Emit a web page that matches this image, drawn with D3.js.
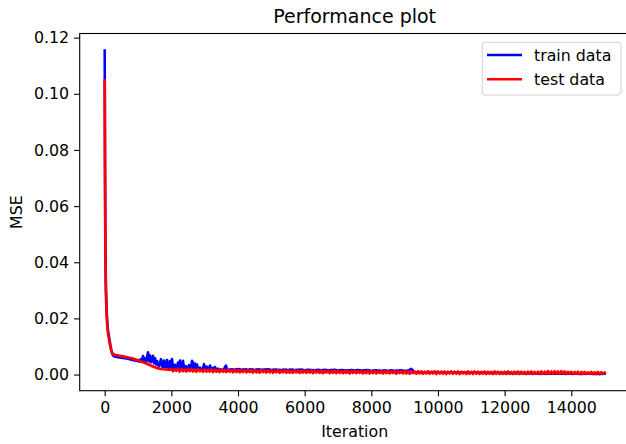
<!DOCTYPE html>
<html>
<head>
<meta charset="utf-8">
<script src="https://cdn.jsdelivr.net/npm/d3@7"></script>
<style>
  html, body { margin: 0; padding: 0; background: #fff; }
  svg { display: block; }
  text { font-family: "DejaVu Sans", sans-serif; fill: #000; }
</style>
</head>
<body>
<svg id="chart" width="626" height="444"></svg>
<script>
// Tick labels
const xTicks = [0, 2000, 4000, 6000, 8000, 10000, 12000, 14000];
const yTicks = [0.00, 0.02, 0.04, 0.06, 0.08, 0.10, 0.12];

// Series names
const seriesNames = ["train data", "test data"];

// ---- train data (MSE per iteration) ----
// fast drop at the start, as [iteration, mse]
const trainEarly = [
  [0, 0.1154], [10, 0.075], [20, 0.048], [35, 0.032], [55, 0.024], [75, 0.019],
  [100, 0.0155], [130, 0.0135], [170, 0.0105], [210, 0.0080], [250, 0.0068],
  [300, 0.0064], [400, 0.0062], [500, 0.0060], [600, 0.0058], [700, 0.0056],
  [800, 0.0053], [900, 0.0050], [970, 0.0049]
];
// noisy stretch, one value every 30 iterations from 1000
const trainNoisyStart = 1000, trainNoisyStep = 30;
const trainNoisy = [
  0.0047, 0.0052, 0.0046, 0.0055, 0.0049, 0.0066, 0.0048, 0.0058, 0.0045, 0.0062,
  0.0079, 0.0047, 0.0068, 0.0044, 0.0052, 0.0067, 0.0040, 0.0058, 0.0036, 0.0048,
  0.0033, 0.0031, 0.0044, 0.0055, 0.0029, 0.0027, 0.0050, 0.0026, 0.0025, 0.0052,
  0.0025, 0.0024, 0.0048, 0.0023, 0.0055, 0.0023, 0.0022, 0.0035, 0.0022, 0.0021,
  0.0043, 0.0021, 0.0050, 0.0021, 0.0020, 0.0049, 0.0021, 0.0020, 0.0030, 0.0020,
  0.0019, 0.0034, 0.0020, 0.0019, 0.0049, 0.0042, 0.0020, 0.0039, 0.0019, 0.0036,
  0.0019, 0.0018, 0.0025, 0.0019, 0.0018, 0.0022, 0.0037, 0.0019, 0.0018, 0.0028,
  0.0018, 0.0017, 0.0032, 0.0018, 0.0017, 0.0024, 0.0017, 0.0027, 0.0017, 0.0016,
  0.0021, 0.0017, 0.0016, 0.0019, 0.0016, 0.0017, 0.0016, 0.0028, 0.0032, 0.0017,
  0.0016
];
// long tail, one value every 100 iterations from 3800
const trainTailStart = 3800, trainTailStep = 100;
const trainTail = [
  0.0019, 0.0017, 0.0020, 0.0017, 0.0019, 0.0017, 0.0019, 0.0016, 0.0019, 0.0017,
  0.0018, 0.0019, 0.0016, 0.0018, 0.0017, 0.0016, 0.0018, 0.0016, 0.0018, 0.0016,
  0.0017, 0.0018, 0.0015, 0.0017, 0.0016, 0.0015, 0.0017, 0.0015, 0.0017, 0.0015,
  0.0016, 0.0017, 0.0014, 0.0016, 0.0015, 0.0014, 0.0016, 0.0014, 0.0016, 0.0014,
  0.0015, 0.0016, 0.0013, 0.0015, 0.0014, 0.0013, 0.0015, 0.0013, 0.0015, 0.0013,
  0.0014, 0.0015, 0.0013, 0.0014, 0.0020, 0.0009, 0.0008, 0.0009, 0.0008, 0.0009,
  0.0008, 0.0010, 0.0007, 0.0009, 0.0008, 0.0007, 0.0009, 0.0007, 0.0008, 0.0007,
  0.0008, 0.0006, 0.0008, 0.0007, 0.0006, 0.0008, 0.0006, 0.0007, 0.0006, 0.0005,
  0.0007, 0.0005, 0.0006, 0.0005, 0.0006, 0.0004, 0.0006, 0.0005, 0.0004, 0.0005,
  0.0004, 0.0005, 0.0003, 0.0004, 0.0003, 0.0004, 0.0003, 0.0004, 0.0003, 0.0004,
  0.0003, 0.0004, 0.0003, 0.0004, 0.0003, 0.0002, 0.0003, 0.0004, 0.0003, 0.0002,
  0.0003, 0.0002, 0.0003
];

// ---- test data (MSE per iteration) ----
const testEarly = [
  [0, 0.1047], [10, 0.070], [20, 0.045], [35, 0.030], [55, 0.022], [80, 0.017],
  [110, 0.0138], [150, 0.0112], [190, 0.0088], [230, 0.0076], [280, 0.0071],
  [350, 0.0069], [450, 0.0067], [550, 0.0065], [650, 0.0062], [750, 0.0060],
  [850, 0.0057], [950, 0.0053], [1050, 0.0049], [1150, 0.0044], [1250, 0.0039],
  [1350, 0.0034], [1450, 0.0029], [1550, 0.0024], [1650, 0.0021], [1750, 0.0019],
  [1850, 0.0018], [1950, 0.0017]
];
// tail, one value every 50 iterations from 2000
const testTailStart = 2000, testTailStep = 50;
const testTail = [
  0.0020, 0.0012, 0.0019, 0.0013, 0.0021, 0.0011, 0.0019, 0.0012, 0.0018, 0.0011,
  0.0019, 0.0012, 0.0020, 0.0011, 0.0018, 0.0010, 0.0019, 0.0012, 0.0017, 0.0010,
  0.0018, 0.0010, 0.0017, 0.0011, 0.0019, 0.0009, 0.0017, 0.0010, 0.0016, 0.0009,
  0.0018, 0.0010, 0.0016, 0.0009, 0.0017, 0.0010, 0.0016, 0.0008, 0.0017, 0.0009,
  0.0016, 0.0008, 0.0015, 0.0009, 0.0017, 0.0008, 0.0015, 0.0009, 0.0016, 0.0007,
  0.0016, 0.0008, 0.0015, 0.0007, 0.0016, 0.0009, 0.0014, 0.0007, 0.0016, 0.0008,
  0.0015, 0.0007, 0.0014, 0.0008, 0.0016, 0.0006, 0.0014, 0.0008, 0.0015, 0.0006,
  0.0015, 0.0007, 0.0014, 0.0006, 0.0015, 0.0008, 0.0013, 0.0006, 0.0014, 0.0007,
  0.0015, 0.0006, 0.0013, 0.0007, 0.0014, 0.0005, 0.0014, 0.0007, 0.0013, 0.0006,
  0.0014, 0.0005, 0.0013, 0.0007, 0.0014, 0.0005, 0.0012, 0.0006, 0.0014, 0.0005,
  0.0013, 0.0006, 0.0012, 0.0005, 0.0014, 0.0006, 0.0012, 0.0004, 0.0013, 0.0006,
  0.0013, 0.0005, 0.0012, 0.0006, 0.0013, 0.0004, 0.0012, 0.0005, 0.0013, 0.0004,
  0.0012, 0.0005, 0.0013, 0.0004, 0.0011, 0.0005, 0.0012, 0.0004, 0.0013, 0.0005,
  0.0012, 0.0004, 0.0011, 0.0005, 0.0012, 0.0003, 0.0011, 0.0005, 0.0012, 0.0004,
  0.0011, 0.0004, 0.0012, 0.0003, 0.0011, 0.0005, 0.0010, 0.0003, 0.0012, 0.0004,
  0.0011, 0.0003, 0.0010, 0.0004, 0.0011, 0.0003, 0.0010, 0.0004, 0.0011, 0.0002,
  0.0011, 0.0004, 0.0010, 0.0003, 0.0011, 0.0002, 0.0010, 0.0004, 0.0011, 0.0003,
  0.0010, 0.0003, 0.0011, 0.0002, 0.0010, 0.0004, 0.0009, 0.0002, 0.0011, 0.0003,
  0.0010, 0.0002, 0.0011, 0.0003, 0.0010, 0.0002, 0.0009, 0.0003, 0.0011, 0.0002,
  0.0010, 0.0003, 0.0009, 0.0002, 0.0011, 0.0003, 0.0010, 0.0002, 0.0009, 0.0003,
  0.0010, 0.0002, 0.0011, 0.0003, 0.0009, 0.0002, 0.0010, 0.0003, 0.0011, 0.0002,
  0.0010, 0.0003, 0.0009, 0.0002, 0.0010, 0.0003, 0.0011, 0.0002, 0.0009, 0.0003,
  0.0010, 0.0002, 0.0011, 0.0003, 0.0010, 0.0002, 0.0012, 0.0003, 0.0011, 0.0003,
  0.0012, 0.0004, 0.0011, 0.0003, 0.0012, 0.0004, 0.0011, 0.0002, 0.0010, 0.0003,
  0.0010, 0.0002, 0.0009, 0.0003, 0.0010, 0.0002, 0.0009, 0.0003, 0.0009, 0.0002,
  0.0008, 0.0003, 0.0009, 0.0002, 0.0008, 0.0003, 0.0009, 0.0002, 0.0008, 0.0003,
  0.0007
];

// Assemble [iteration, mse] point lists from the pieces above
function stepped(start, step, values) {
  return values.map((v, i) => [start + i * step, v]);
}
const trainPoints = trainEarly
  .concat(stepped(trainNoisyStart, trainNoisyStep, trainNoisy))
  .concat(stepped(trainTailStart, trainTailStep, trainTail));
const testPoints = testEarly.concat(stepped(testTailStart, testTailStep, testTail));

// ---- layout ----
const svg = d3.select("#chart");
const plot = { left: 79.7, right: 629.6, top: 33.5, bottom: 390.7 };
const FONT = 15.8;

const x = d3.scaleLinear().domain([-750, 15750]).range([plot.left, plot.right]);
const y = d3.scaleLinear().domain([-0.00575, 0.12148]).range([plot.bottom, plot.top]);

const clipId = "plot-clip";
svg.append("defs").append("clipPath").attr("id", clipId)
  .append("rect")
  .attr("x", plot.left).attr("y", plot.top)
  .attr("width", plot.right - plot.left).attr("height", plot.bottom - plot.top);

// Lines
const line = d3.line().x(d => x(d[0])).y(d => y(d[1]));
const lines = svg.append("g").attr("clip-path", `url(#${clipId})`);
lines.append("path").datum(trainPoints)
  .attr("d", line).attr("fill", "none")
  .attr("stroke", "#0000ff").attr("stroke-width", 2.6)
  .attr("stroke-linejoin", "round").attr("stroke-linecap", "square");
lines.append("path").datum(testPoints)
  .attr("d", line).attr("fill", "none")
  .attr("stroke", "#ff0000").attr("stroke-width", 2.7)
  .attr("stroke-linejoin", "round").attr("stroke-linecap", "square");

// Axes
const xAxis = d3.axisBottom(x).tickValues(xTicks).tickFormat(d3.format("d"))
  .tickSizeInner(5.6).tickSizeOuter(0).tickPadding(5);
const yAxis = d3.axisLeft(y).tickValues(yTicks).tickFormat(d3.format(".2f"))
  .tickSizeInner(5.6).tickSizeOuter(0).tickPadding(5);

const gx = svg.append("g").attr("transform", `translate(0,${plot.bottom})`).call(xAxis);
const gy = svg.append("g").attr("transform", `translate(${plot.left},0)`).call(yAxis);
[gx, gy].forEach(g => {
  g.select(".domain").remove();
  g.selectAll(".tick line").attr("stroke", "#000").attr("stroke-width", 1.1);
  g.selectAll(".tick text").attr("fill", "#000")
    .style("font-family", "'DejaVu Sans', sans-serif").style("font-size", FONT + "px");
});

// Frame (spines)
svg.append("rect")
  .attr("x", plot.left).attr("y", plot.top)
  .attr("width", plot.right - plot.left).attr("height", plot.bottom - plot.top)
  .attr("fill", "none").attr("stroke", "#000").attr("stroke-width", 1.1);

// Title and axis labels
const cx = (plot.left + plot.right) / 2;
svg.append("text").attr("x", cx).attr("y", 23).attr("text-anchor", "middle")
  .style("font-size", "19px").text("Performance plot");
svg.append("text").attr("x", cx).attr("y", 437).attr("text-anchor", "middle")
  .style("font-size", FONT + "px").text("Iteration");
svg.append("text")
  .attr("transform", `translate(22,${(plot.top + plot.bottom) / 2}) rotate(-90)`)
  .attr("text-anchor", "middle").style("font-size", FONT + "px").text("MSE");

// Legend
const legend = svg.append("g");
legend.append("rect")
  .attr("x", 482.3).attr("y", 42.3).attr("width", 138.7).attr("height", 52.7)
  .attr("rx", 3).attr("ry", 3)
  .attr("fill", "#fff").attr("fill-opacity", 0.8)
  .attr("stroke", "#d0d0d0").attr("stroke-width", 1);
const legendColors = ["#0000ff", "#ff0000"];
const legendY = d3.scalePoint().domain(seriesNames).range([55, 79.3]);
seriesNames.forEach((name, i) => {
  const ly = legendY(name);
  legend.append("line")
    .attr("x1", 487).attr("x2", 522).attr("y1", ly).attr("y2", ly)
    .attr("stroke", legendColors[i]).attr("stroke-width", 2.6);
  legend.append("text").attr("x", 534).attr("y", ly + 5.7)
    .style("font-size", FONT + "px").text(name);
});
</script>
</body>
</html>
